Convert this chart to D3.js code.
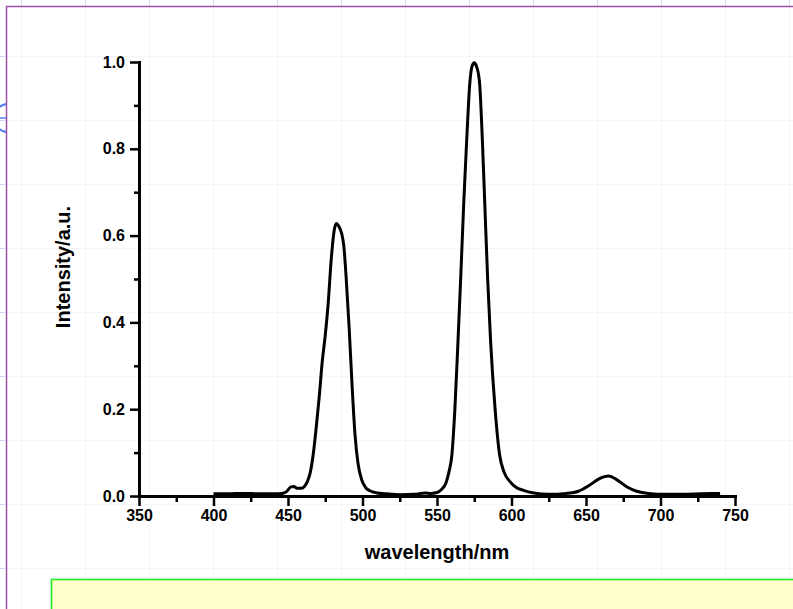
<!DOCTYPE html>
<html>
<head>
<meta charset="utf-8">
<script src="https://cdn.jsdelivr.net/npm/d3@7"></script>
<style>
  html, body { margin: 0; padding: 0; background: #ffffff; }
  svg { display: block; }
  text { font-family: "Liberation Sans", Arial, sans-serif; font-weight: bold; fill: #000; }
</style>
</head>
<body>
<svg id="chart" width="793" height="609"></svg>
<script>
// Emission spectrum: wavelength (nm) and normalised intensity
const wavelength = [400, 410, 420, 430, 440, 446, 449, 452, 454, 456, 459, 461, 463, 465, 467, 469, 471, 473, 475, 477, 479, 481, 482.5, 484, 486, 487.5, 489, 491, 493, 495, 497, 499.5, 502, 505, 510, 516, 525, 535, 542, 546, 550, 553, 556, 558, 560, 562, 564, 566, 568, 570, 572, 573.5, 575, 576.5, 578.5, 580.5, 582, 584, 586, 589, 592, 595, 599, 603, 608, 615, 625, 637, 645, 652, 659, 665, 670, 677, 684, 692, 704, 715, 727, 740];
const intensity  = [0.005, 0.005, 0.006, 0.005, 0.005, 0.006, 0.010, 0.021, 0.022, 0.018, 0.018, 0.022, 0.033, 0.055, 0.098, 0.160, 0.230, 0.310, 0.370, 0.445, 0.545, 0.612, 0.628, 0.622, 0.605, 0.575, 0.505, 0.390, 0.255, 0.140, 0.075, 0.037, 0.020, 0.012, 0.007, 0.005, 0.003, 0.004, 0.007, 0.006, 0.008, 0.015, 0.030, 0.055, 0.095, 0.200, 0.350, 0.510, 0.680, 0.825, 0.950, 0.990, 0.998, 0.990, 0.955, 0.815, 0.680, 0.500, 0.355, 0.200, 0.095, 0.055, 0.033, 0.020, 0.013, 0.007, 0.004, 0.006, 0.011, 0.024, 0.040, 0.046, 0.039, 0.022, 0.011, 0.006, 0.004, 0.004, 0.005, 0.006];

const xTicks = [350, 400, 450, 500, 550, 600, 650, 700, 750];
const xMinorTicks = [375, 425, 475, 525, 575, 625, 675, 725];
const yTicks = [0.0, 0.2, 0.4, 0.6, 0.8, 1.0];
const yMinorTicks = [0.1, 0.3, 0.5, 0.7, 0.9];

const svg = d3.select("#chart");
const W = 793, H = 609;

// Page backdrop: faint layout grid with ruler marks on the edges
const gridStep = 64;
const gx = d3.range(21, W, gridStep);
const gy = d3.range(-8, H, gridStep);
const grid = svg.append("g");
grid.selectAll("line.v").data(gx).join("line")
  .attr("x1", d => d + 0.5).attr("x2", d => d + 0.5).attr("y1", 0).attr("y2", H)
  .attr("stroke", "#f5f6fb").attr("stroke-width", 1);
grid.selectAll("line.h").data(gy).join("line")
  .attr("x1", 0).attr("x2", W).attr("y1", d => d + 0.5).attr("y2", d => d + 0.5)
  .attr("stroke", "#f5f6fb").attr("stroke-width", 1);
grid.selectAll("line.rt").data(gx).join("line")
  .attr("x1", d => d + 0.5).attr("x2", d => d + 0.5).attr("y1", 0).attr("y2", 5)
  .attr("stroke", "#cdd7f6").attr("stroke-width", 1);
grid.selectAll("line.rl").data(gy).join("line")
  .attr("x1", 0).attr("x2", 5).attr("y1", d => d + 0.5).attr("y2", d => d + 0.5)
  .attr("stroke", "#cdd7f6").attr("stroke-width", 1);

// Page frame
svg.append("path")
  .attr("d", `M${W},6.5 H6.5 V${H}`)
  .attr("fill", "none").attr("stroke", "#9c4fa9").attr("stroke-width", 1.5);

// Anchor marker on the left edge
svg.append("clipPath").attr("id", "leftEdge")
  .append("rect").attr("x", -20).attr("y", 0).attr("width", 26).attr("height", H);
const marker = svg.append("g").attr("clip-path", "url(#leftEdge)");
marker.append("circle").attr("cx", 8).attr("cy", 118).attr("r", 14)
  .attr("fill", "none").attr("stroke", "#5a7cf5").attr("stroke-width", 2);
marker.append("line").attr("x1", 0).attr("x2", 6).attr("y1", 118).attr("y2", 118)
  .attr("stroke", "#5a7cf5").attr("stroke-width", 1.5);

// Note box at the bottom
svg.append("rect")
  .attr("x", 51.5).attr("y", 579.5).attr("width", W).attr("height", 60)
  .attr("fill", "#ffffcc").attr("stroke", "#22ee22").attr("stroke-width", 1.6);

// Scales
const x = d3.scaleLinear().domain([350, 750]).range([139, 735]);
const y = d3.scaleLinear().domain([0, 1]).range([496, 62]);

// Spectrum line
const pts = wavelength.map((w, i) => [w, intensity[i]]);
const line = d3.line().x(d => x(d[0])).y(d => y(d[1])).curve(d3.curveMonotoneX);
svg.append("path").datum(pts)
  .attr("d", line)
  .attr("fill", "none").attr("stroke", "#000").attr("stroke-width", 3)
  .attr("stroke-linejoin", "round");

// Axes
function styleAxis(g) {
  g.select(".domain").attr("stroke", "#000").attr("stroke-width", 3).attr("stroke-linecap", "square");
  g.selectAll(".tick line").attr("stroke", "#000").attr("stroke-width", 2.5);
  g.selectAll(".tick text").attr("font-size", 16).attr("font-weight", "bold")
    .attr("font-family", "'Liberation Sans', Arial, sans-serif").attr("fill", "#000");
}

const xMinor = svg.append("g").attr("transform", "translate(0,496)")
  .call(d3.axisBottom(x).tickValues(xMinorTicks).tickSize(6).tickFormat(""));
xMinor.select(".domain").remove();
xMinor.selectAll(".tick line").attr("stroke", "#000").attr("stroke-width", 2.5);

const yMinor = svg.append("g").attr("transform", "translate(139,0)")
  .call(d3.axisLeft(y).tickValues(yMinorTicks).tickSize(5).tickFormat(""));
yMinor.select(".domain").remove();
yMinor.selectAll(".tick line").attr("stroke", "#000").attr("stroke-width", 2.5);

const xAxis = svg.append("g").attr("transform", "translate(0,496)")
  .call(d3.axisBottom(x).tickValues(xTicks).tickSize(10).tickSizeOuter(0).tickPadding(4).tickFormat(d3.format("d")));
styleAxis(xAxis);

const yAxis = svg.append("g").attr("transform", "translate(139,0)")
  .call(d3.axisLeft(y).tickValues(yTicks).tickSize(9).tickSizeOuter(0).tickPadding(5).tickFormat(d3.format(".1f")));
styleAxis(yAxis);

// Axis titles
svg.append("text")
  .attr("x", 437).attr("y", 559)
  .attr("text-anchor", "middle").attr("font-size", 20)
  .text("wavelength/nm");

svg.append("text")
  .attr("transform", "translate(70,267) rotate(-90)")
  .attr("text-anchor", "middle").attr("font-size", 20)
  .text("Intensity/a.u.");
</script>
</body>
</html>
